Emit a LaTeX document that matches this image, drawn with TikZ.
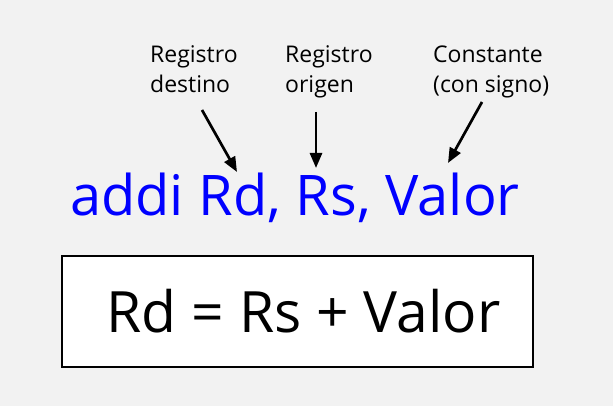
\documentclass[tikz,border=0pt]{standalone}
\usepackage{fontspec}
\setmainfont{Open Sans}
\usetikzlibrary{arrows.meta,positioning}
\definecolor{bgray}{HTML}{F2F2F2}
\tikzset{lbl/.style={anchor=base west,align=left,inner sep=0pt,font=\fontsize{23}{30}\selectfont},arr/.style={-{Triangle[length=15pt,width=12pt]},line width=2.7pt},instr/.style={text=blue,inner sep=0pt,anchor=base west,font=\fontsize{56}{64}\selectfont},res/.style={draw,line width=1.2pt,fill=white,minimum width=471pt,minimum height=111pt,font=\fontsize{57}{64}\selectfont}}

\begin{document}
\begin{tikzpicture}[x=1pt,y=-1pt]
\fill[bgray](0,0)rectangle(613,406);\useasboundingbox(0,0)rectangle(613,406);
\node[lbl](dest)at(150,93){Registro\\destino};\node[lbl](orig)at(285,93){Registro\\origen};\node[lbl](cons)at(433,93){Constante\\(con signo)};
\node[instr](ins)at(70,216){addi Rd, Rs, Valor};
\coordinate(td)at(237,172);\coordinate(ts)at(316,168);\coordinate(tv)at(448,163);
\coordinate(sd)at(202,110);\coordinate(ss)at(316,112);\coordinate(sv)at(482,102);
\foreach\a/\b in{sd/td,ss/ts,sv/tv}\draw[arr](\a)--(\b);
\node[res](eq)at(297.5,311.5){\hspace{12pt}Rd = Rs + Valor};
\end{tikzpicture}
\end{document}
